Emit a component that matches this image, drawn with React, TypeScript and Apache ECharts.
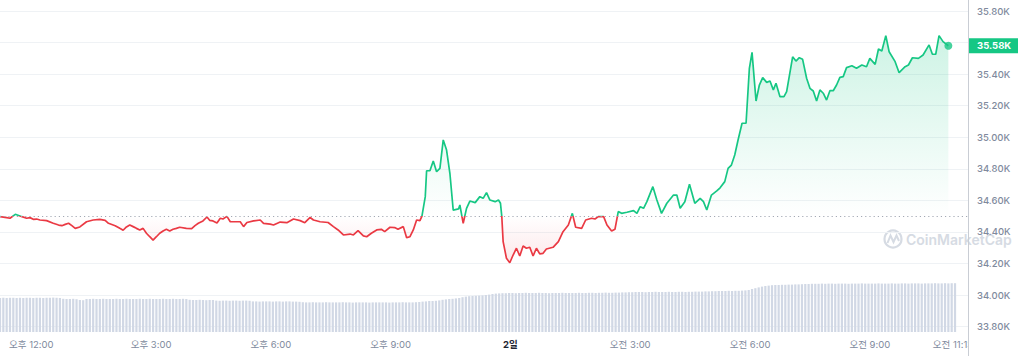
import React, { useEffect, useRef } from "react";
import * as echarts from "echarts";

// Opening (reference) price, drawn as the dotted baseline
const BASE_PRICE = 34500;
// x axis: minutes since midnight of day 1
const X_MIN = 673;
const X_MAX = 2127.5;

const priceTimes = [
  673, 683, 688, 696, 706, 713, 718, 723, 728, 733, 743, 753, 761, 766, 771, 776, 781, 786, 793, 803,
  813, 823, 831, 836, 846, 853, 858, 863, 868, 873, 878, 883, 888, 893, 898, 903, 908, 913, 918, 923,
  928, 933, 938, 943, 953, 961, 966, 971, 978, 984, 988, 993, 999, 1004, 1008, 1014, 1019, 1034, 1039, 1044,
  1054, 1064, 1069, 1079, 1084, 1094, 1104, 1114, 1124, 1131, 1139, 1144, 1154, 1166, 1174, 1181, 1189, 1199, 1204, 1211,
  1219, 1224, 1231, 1239, 1246, 1251, 1259, 1266, 1271, 1279, 1284, 1289, 1294, 1299, 1304, 1307, 1312, 1314, 1319, 1324,
  1329, 1334, 1339, 1344, 1349, 1354, 1362, 1364, 1369, 1374, 1379, 1387, 1394, 1399, 1404, 1409, 1417, 1422, 1425, 1427,
  1429, 1434, 1439, 1444, 1449, 1454, 1459, 1464, 1469, 1474, 1479, 1484, 1489, 1494, 1504, 1512, 1519, 1527, 1533, 1538,
  1547, 1553, 1562, 1567, 1572, 1580, 1585, 1592, 1597, 1602, 1607, 1615, 1625, 1630, 1635, 1640, 1645, 1654, 1660, 1667,
  1675, 1685, 1690, 1695, 1702, 1709, 1717, 1725, 1730, 1735, 1742, 1750, 1755, 1762, 1767, 1772, 1777, 1782, 1788, 1794,
  1799, 1803, 1809, 1814, 1819, 1825, 1830, 1835, 1839, 1845, 1851, 1855, 1864, 1869, 1874, 1879, 1885, 1890, 1895, 1900,
  1905, 1910, 1915, 1920, 1925, 1930, 1935, 1940, 1945, 1953, 1960, 1968, 1975, 1980, 1988, 1993, 1998, 2004, 2009, 2018,
  2024, 2033, 2038, 2044, 2053, 2060, 2069, 2074, 2079, 2084, 2090, 2098,
];

const prices = [
  34498, 34491, 34487, 34512, 34497, 34487, 34491, 34480, 34482, 34476, 34472, 34455, 34444, 34440, 34448, 34455, 34440, 34423, 34432, 34465,
  34476, 34480, 34474, 34455, 34440, 34423, 34411, 34432, 34444, 34434, 34423, 34413, 34423, 34392, 34370, 34349, 34370, 34392, 34406, 34417,
  34406, 34417, 34423, 34430, 34423, 34421, 34440, 34455, 34470, 34495, 34474, 34470, 34457, 34487, 34482, 34499, 34465, 34465, 34434, 34460,
  34470, 34476, 34455, 34450, 34444, 34463, 34459, 34482, 34472, 34459, 34492, 34476, 34465, 34460, 34434, 34413, 34381, 34387, 34381, 34408,
  34375, 34370, 34392, 34413, 34417, 34402, 34430, 34428, 34417, 34434, 34364, 34370, 34413, 34476, 34472, 34501, 34624, 34788, 34788, 34850,
  34782, 34803, 34983, 34919, 34772, 34539, 34546, 34571, 34455, 34550, 34596, 34586, 34624, 34613, 34649, 34603, 34592, 34603, 34582, 34497,
  34339, 34233, 34205, 34254, 34297, 34248, 34311, 34297, 34303, 34248, 34297, 34261, 34265, 34292, 34303, 34339, 34402, 34444, 34518, 34430,
  34423, 34476, 34487, 34482, 34497, 34497, 34444, 34406, 34417, 34529, 34518, 34525, 34535, 34518, 34560, 34550, 34592, 34687, 34603, 34518,
  34582, 34634, 34634, 34550, 34592, 34702, 34582, 34613, 34592, 34539, 34634, 34660, 34680, 34719, 34803, 34824, 34888, 34983, 35089, 35089,
  35437, 35538, 35230, 35331, 35378, 35348, 35357, 35300, 35342, 35257, 35257, 35289, 35510, 35483, 35504, 35494, 35374, 35310, 35293, 35230,
  35300, 35279, 35236, 35295, 35295, 35331, 35380, 35384, 35441, 35453, 35437, 35458, 35447, 35500, 35462, 35559, 35547, 35644, 35542, 35479,
  35409, 35447, 35458, 35504, 35500, 35521, 35585, 35526, 35526, 35644, 35606, 35580,
];

// 24h volume (billions USD), one bar per 5 minutes
const VOLUME_START = 673;
const VOLUME_STEP = 5;
const volumes = [
  17.0, 17.1, 17.0, 17.1, 17.1, 17.0, 17.1, 17.0, 17.1, 17.1, 17.0, 17.1, 17.1, 17.0, 17.1, 17.1, 17.2, 17.1, 17.0,
  16.6, 16.5, 16.5, 16.6, 16.4,
  16.0, 15.9,
  16.5, 16.5, 16.6, 16.5, 16.5, 16.6, 16.5, 16.5, 16.5, 16.6, 16.5, 16.5, 16.6, 16.5, 16.5, 16.5, 16.6, 16.5, 16.5, 16.6,
  16.5, 16.5, 16.5, 16.6, 16.5, 16.5, 16.6, 16.5, 16.5, 16.6, 16.5,
  16.1, 16.0, 16.0, 16.1, 16.0, 15.9, 16.0, 16.0,
  15.7, 15.6, 15.7, 15.7, 15.6, 15.7, 15.7, 15.6, 15.7, 15.7, 15.6,
  15.3, 15.3, 15.2, 15.3, 15.3, 15.3, 15.2, 15.3, 15.3, 15.2, 15.3, 15.3, 15.2, 15.2, 15.1,
  14.9, 14.8, 14.8, 14.9, 14.8, 14.8, 14.8, 14.9, 14.8, 14.8, 14.8, 14.8, 14.9, 14.8, 14.8, 14.7, 14.8, 14.8, 14.8, 14.8,
  14.7, 14.8, 14.8, 14.8, 14.8, 14.8, 14.7, 14.8, 14.8, 14.8, 14.9, 14.8, 14.8, 14.8, 14.9, 15.0,
  15.2, 15.3, 15.5, 15.5, 15.6, 15.8,
  16.1, 16.3, 16.5, 16.6, 16.8, 17.0,
  17.4, 17.7, 17.9, 18.0, 18.1, 18.2, 18.3, 18.5, 18.7,
  19.0, 19.2, 19.3, 19.4, 19.4, 19.5, 19.5, 19.4, 19.5, 19.5, 19.6, 19.5, 19.5, 19.5, 19.6, 19.5, 19.5, 19.4, 19.5, 19.5,
  19.5, 19.6, 19.5, 19.5, 19.5, 19.5, 19.6, 19.5, 19.5, 19.6, 19.6, 19.5, 19.6, 19.6, 19.7, 19.6, 19.6, 19.7, 19.7, 19.8,
  19.8, 19.9, 19.9, 20.0, 20.0, 20.0, 19.9, 20.0, 20.0, 20.1, 20.0, 20.0, 20.0, 20.1, 20.0, 20.0, 20.1, 20.1, 20.0, 20.1,
  20.1, 20.2, 20.2, 20.2,
  20.3, 20.3, 20.4, 20.4, 20.5, 20.5, 20.5, 20.6, 20.5, 20.6, 20.6, 20.7, 20.8, 21.0,
  21.5, 21.9, 22.3, 22.7,
  23.0, 23.2, 23.4, 23.5, 23.5, 23.6, 23.6, 23.7, 23.7, 23.8, 23.8, 23.9,
  24.0, 24.0, 24.1, 24.1, 24.1, 24.2, 24.1, 24.2, 24.2, 24.1, 24.2, 24.2, 24.2, 24.1, 24.2, 24.2, 24.2, 24.3, 24.2, 24.2,
  24.2, 24.2, 24.3, 24.2, 24.2, 24.2, 24.3, 24.2, 24.2, 24.3, 24.3, 24.2, 24.3, 24.3, 24.3, 24.2, 24.3, 24.3, 24.3, 24.4,
  24.3, 24.3, 24.4, 24.3, 24.4, 24.4,
];

// price axis
const PRICE_MIN = 33800;
const PRICE_MAX = 35800;
const PRICE_STEP = 200;

// x axis labels (positions in minutes since midnight of day 1, and their texts)
const xLabelValues = [720, 900, 1080, 1260, 1440, 1620, 1800, 1980, 2105];
const xLabelTexts = ["오후 12:00", "오후 3:00", "오후 6:00", "오후 9:00", "2일", "오전 3:00", "오전 6:00", "오전 9:00", "오전 11:13"];
const BOLD_LABELS = ["2일"];

const GREEN = "#16c784";
const RED = "#ea3943";
const FONT = 'Inter, "Noto Sans CJK KR", sans-serif';

const CHART_W = 1018;
const CHART_H = 356;
const GRID_TOP = 11;
const GRID_BOTTOM = 29.3;
const GRID_RIGHT = 50;

function formatTime(v: number): string {
  let best = 0;
  for (let i = 1; i < xLabelValues.length; i++) {
    if (Math.abs(xLabelValues[i] - v) < Math.abs(xLabelValues[best] - v)) best = i;
  }
  const t = xLabelTexts[best];
  return BOLD_LABELS.includes(t) ? `{b|${t}}` : t;
}

export default function App() {
  const ref = useRef<HTMLDivElement>(null);

  useEffect(() => {
    if (!ref.current) return;
    const chart = echarts.init(ref.current, undefined, { renderer: "svg" });

    const lineData = priceTimes.map((t, i) => [t, prices[i]]);
    const upData = priceTimes.map((t, i) => [t, Math.max(prices[i], BASE_PRICE)]);
    const downData = priceTimes.map((t, i) => [t, Math.min(prices[i], BASE_PRICE)]);
    const volData = volumes.map((v, i) => [VOLUME_START + i * VOLUME_STEP, v]);
    const lastIdx = prices.length - 1;
    const lastPrice = prices[lastIdx];

    // pixel row of the baseline, used to split the line colour (global gradient)
    const gridH = CHART_H - GRID_TOP - GRID_BOTTOM;
    const baseY = GRID_TOP + ((PRICE_MAX - BASE_PRICE) / (PRICE_MAX - PRICE_MIN)) * gridH;
    const split = baseY / CHART_H;
    const lineColor = new echarts.graphic.LinearGradient(
      0, 0, 0, CHART_H,
      [
        { offset: 0, color: GREEN },
        { offset: split, color: GREEN },
        { offset: split, color: RED },
        { offset: 1, color: RED },
      ],
      true
    );

    const option: any = {
      animation: false,
      textStyle: { fontFamily: FONT },
      grid: [
        { left: 0, right: GRID_RIGHT, top: GRID_TOP, bottom: GRID_BOTTOM, containLabel: false },
        { left: 0, right: GRID_RIGHT, top: 232, bottom: 24, containLabel: false },
      ],
      xAxis: [
        {
          type: "value",
          gridIndex: 0,
          min: X_MIN,
          max: X_MAX,
          show: false,
          splitLine: { show: false },
        },
        {
          type: "value",
          gridIndex: 1,
          min: X_MIN,
          max: X_MAX,
          axisLine: { show: false },
          axisTick: { show: false },
          splitLine: { show: false },
          axisLabel: {
            customValues: xLabelValues,
            formatter: (v: number) => formatTime(v),
            color: "#808a9d",
            fontSize: 9.5,
            fontFamily: FONT,
            margin: 8,
            rich: {
              b: { fontWeight: 700, color: "#222531", fontSize: 9.5, fontFamily: FONT },
            },
          },
        },
      ],
      yAxis: [
        {
          type: "value",
          gridIndex: 0,
          position: "right",
          min: PRICE_MIN,
          max: PRICE_MAX,
          interval: PRICE_STEP,
          axisLine: { show: false },
          axisTick: { show: false },
          splitLine: { show: true, lineStyle: { color: "#eff2f5", width: 1 } },
          axisLabel: {
            // the tick label hidden behind the current-price tag is not drawn
            formatter: (v: number) =>
              Math.abs(v - lastPrice) < PRICE_STEP / 3 ? "" : (v / 1000).toFixed(2) + "K",
            color: "#808a9d",
            fontSize: 9.5,
            fontWeight: 500,
            fontFamily: FONT,
            margin: 9,
          },
        },
        {
          type: "value",
          gridIndex: 1,
          min: 0,
          max: 50,
          show: false,
          splitLine: { show: false },
        },
      ],
      series: [
        {
          name: "up-area",
          type: "line",
          xAxisIndex: 0,
          yAxisIndex: 0,
          data: upData,
          showSymbol: false,
          silent: true,
          lineStyle: { width: 0, opacity: 0 },
          areaStyle: {
            origin: BASE_PRICE,
            color: new echarts.graphic.LinearGradient(0, 0, 0, 1, [
              { offset: 0, color: "rgba(22,199,132,0.30)" },
              { offset: 1, color: "rgba(22,199,132,0.0)" },
            ]),
          },
          z: 1,
        },
        {
          name: "down-area",
          type: "line",
          xAxisIndex: 0,
          yAxisIndex: 0,
          data: downData,
          showSymbol: false,
          silent: true,
          lineStyle: { width: 0, opacity: 0 },
          areaStyle: {
            origin: BASE_PRICE,
            color: new echarts.graphic.LinearGradient(0, 0, 0, 1, [
              { offset: 0, color: "rgba(234,57,67,0.0)" },
              { offset: 1, color: "rgba(234,57,67,0.17)" },
            ]),
          },
          z: 1,
        },
        {
          name: "price",
          type: "line",
          xAxisIndex: 0,
          yAxisIndex: 0,
          data: lineData,
          showSymbol: false,
          lineStyle: { width: 1.7, color: lineColor },
          itemStyle: { color: GREEN },
          z: 3,
          markLine: {
            silent: true,
            symbol: ["none", "none"],
            animation: false,
            z: 20,
            data: [
              {
                yAxis: BASE_PRICE,
                lineStyle: { color: "#a3a9b4", type: [1.2, 3], width: 1 },
                label: { show: false },
              },
              {
                yAxis: lastPrice,
                lineStyle: { color: "rgba(0,0,0,0)", width: 0 },
                label: {
                  show: true,
                  position: "end",
                  distance: 1,
                  formatter: () => (lastPrice / 1000).toFixed(2) + "K",
                  backgroundColor: GREEN,
                  color: "#ffffff",
                  fontSize: 9.5,
                  fontWeight: 700,
                  fontFamily: FONT,
                  lineHeight: 11,
                  padding: [2, 9, 2, 8],
                },
              },
            ],
          },
        },
        {
          name: "last",
          type: "scatter",
          xAxisIndex: 0,
          yAxisIndex: 0,
          data: [[priceTimes[lastIdx], lastPrice]],
          symbolSize: 8,
          itemStyle: { color: GREEN },
          silent: true,
          z: 4,
        },
        {
          name: "volume",
          type: "bar",
          xAxisIndex: 1,
          yAxisIndex: 1,
          data: volData,
          barWidth: 2.2,
          itemStyle: { color: "#d1d8e5" },
          silent: true,
          z: 2,
        },
      ],
      graphic: {
        elements: [
          {
            type: "circle",
            shape: { cx: 893, cy: 239, r: 8.5 },
            style: { fill: "none", stroke: "#d6dbe3", lineWidth: 2.2 },
            silent: true,
            z: -1,
          },
          {
            type: "polyline",
            shape: { points: [[887.5, 243], [890.5, 235.5], [893.5, 242], [896.5, 235.5], [899, 241]] },
            style: { fill: "none", stroke: "#d6dbe3", lineWidth: 2 },
            silent: true,
            z: -1,
          },
          {
            type: "text",
            x: 906,
            y: 239,
            style: {
              text: "CoinMarketCap",
              fill: "#d6dbe3",
              font: `600 14px ${FONT}`,
              verticalAlign: "middle",
              align: "left",
            },
            silent: true,
            z: -1,
          },
          {
            type: "rect",
            shape: { x: CHART_W - GRID_RIGHT + 1, y: 336, width: GRID_RIGHT - 1, height: 20 },
            style: { fill: "#ffffff" },
            silent: true,
            z: 100,
          },
          {
            type: "line",
            shape: { x1: CHART_W - GRID_RIGHT + 0.5, y1: 0, x2: CHART_W - GRID_RIGHT + 0.5, y2: CHART_H },
            style: { stroke: "#c9cdd4", lineWidth: 1 },
            silent: true,
            z: 101,
          },
        ],
      },
    };

    chart.setOption(option);
    return () => chart.dispose();
  }, []);

  return (
    <div
      ref={ref}
      style={{ position: "fixed", left: 0, top: 0, width: CHART_W, height: CHART_H, background: "#ffffff" }}
    />
  );
}
